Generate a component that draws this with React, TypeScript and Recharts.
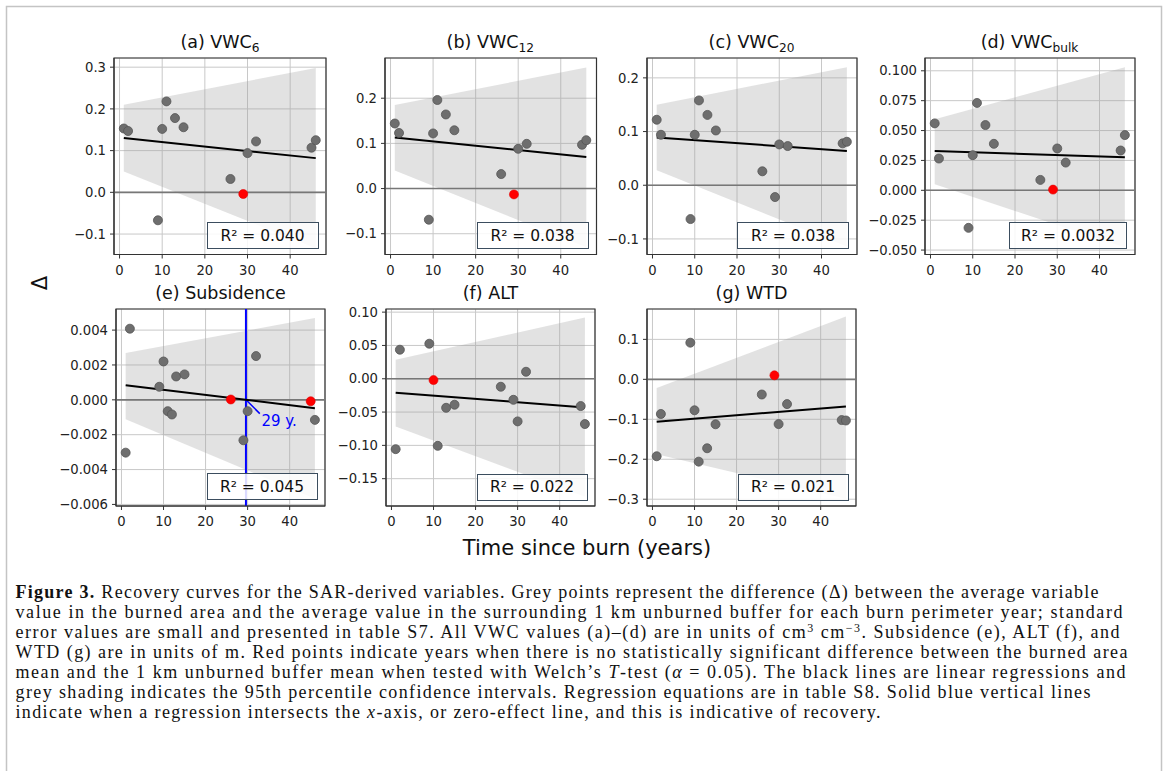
import React from 'react';
import {
  ComposedChart, Scatter, Line, Area, XAxis, YAxis, CartesianGrid,
  ReferenceLine, ReferenceArea,
} from 'recharts';

if (typeof document !== 'undefined') {
  document.body.style.margin = '0';
}

// ---------------- data ----------------
const years = [1, 2, 9, 10, 11, 13, 15, 26, 29, 30, 32, 45, 46];
const yearsSubsidence = [1, 2, 9, 10, 11, 12, 13, 15, 26, 29, 30, 32, 45, 46];
const fitYears = [1, 46];
const xTicks = [0, 10, 20, 30, 40];

const vwc6 = [0.153, 0.147, -0.067, 0.152, 0.218, 0.178, 0.156, 0.032, -0.004, 0.094, 0.122, 0.107, 0.125];
const vwc12 = [0.144, 0.123, -0.069, 0.122, 0.196, 0.164, 0.129, 0.032, -0.013, 0.088, 0.099, 0.097, 0.107];
const vwc20 = [0.122, 0.094, -0.063, 0.094, 0.158, 0.131, 0.102, 0.026, -0.022, 0.076, 0.073, 0.078, 0.081];
const vwcBulk = [0.056, 0.0266, -0.0314, 0.0294, 0.0731, 0.0546, 0.0389, 0.0087, 0.0006, 0.035, 0.0232, 0.0333, 0.0462];
const subsidence = [-0.00303, 0.00408, 0.00075, 0.0022, -0.00065, -0.00084, 0.00134, 0.00146, 0.00002, -0.00232, -0.00065, 0.00251, -0.00008, -0.00115];
const alt = [-0.1057, 0.0436, 0.0526, -0.002, -0.1007, -0.0436, -0.039, -0.012, -0.0316, -0.064, 0.0105, -0.041, -0.068];
const wtd = [-0.1925, -0.0867, 0.0917, -0.0775, -0.206, -0.1725, -0.1125, -0.038, 0.010, -0.112, -0.062, -0.102, -0.103];

// years without significant difference (red points)
const redA = [29];
const redB = [29];
const redC: number[] = [];
const redD = [29];
const redE = [26, 45];
const redF = [10];
const redG = [29];

// regression line endpoints (at fitYears) and confidence band
const fitA = [0.130, 0.082]; const loA = [0.050, -0.134]; const hiA = [0.210, 0.298];
const fitB = [0.113, 0.070]; const loB = [0.040, -0.130]; const hiB = [0.185, 0.268];
const fitC = [0.089, 0.064]; const loC = [0.028, -0.114]; const hiC = [0.150, 0.220];
const fitD = [0.0328, 0.0277]; const loD = [0.005, -0.0479]; const hiD = [0.0594, 0.103];
const fitE = [0.00084, -0.00048]; const loE = [-0.00111, -0.00567]; const hiE = [0.00268, 0.00469];
const fitF = [-0.021, -0.043]; const loF = [-0.0716, -0.177]; const hiF = [0.0286, 0.092];
const fitG = [-0.106, -0.068]; const loG = [-0.1875, -0.299]; const hiG = [-0.022, 0.157];

const r2Labels = ['0.040', '0.038', '0.038', '0.0032', '0.045', '0.022', '0.021'];
const titleMain = ['(a) VWC', '(b) VWC', '(c) VWC', '(d) VWC', '(e) Subsidence', '(f) ALT', '(g) WTD'];
const titleSub = ['6', '12', '20', 'bulk', '', '', ''];

const recoveryYearE = 29.6;
const recoveryArrowE = [{ x: 29.6, y: 0 }, { x: 32.9, y: -0.00079 }];
const recoveryTextE = [{ x: 33.3, y: -0.00125, label: '29 y.' }];

const xDomain: [number, number] = [-1.3, 48.4];

type Rect = { x: number; y: number; w: number; h: number };
type Panel = {
  xs: number[]; ys: number[]; red: number[]; fit: number[]; lo: number[]; hi: number[];
  yDomain: [number, number]; yTicks: number[]; dec: number; boxW: number; rect: Rect; idx: number;
};

const panels: Panel[] = [
  { idx: 0, xs: years, ys: vwc6, red: redA, fit: fitA, lo: loA, hi: hiA, yDomain: [-0.149, 0.322], yTicks: [-0.1, 0, 0.1, 0.2, 0.3], dec: 1, boxW: 112, rect: { x: 114, y: 58, w: 212, h: 196.5 } },
  { idx: 1, xs: years, ys: vwc12, red: redB, fit: fitB, lo: loB, hi: hiB, yDomain: [-0.146, 0.289], yTicks: [-0.1, 0, 0.1, 0.2], dec: 1, boxW: 112, rect: { x: 384.5, y: 58, w: 211.5, h: 196.5 } },
  { idx: 2, xs: years, ys: vwc20, red: redC, fit: fitC, lo: loC, hi: hiC, yDomain: [-0.129, 0.237], yTicks: [-0.1, 0, 0.1, 0.2], dec: 1, boxW: 112, rect: { x: 646.5, y: 58, w: 210, h: 196.5 } },
  { idx: 3, xs: years, ys: vwcBulk, red: redD, fit: fitD, lo: loD, hi: hiD, yDomain: [-0.0537, 0.1107], yTicks: [-0.05, -0.025, 0, 0.025, 0.05, 0.075, 0.1], dec: 3, boxW: 118, rect: { x: 924.5, y: 58, w: 210, h: 196.5 } },
  { idx: 4, xs: yearsSubsidence, ys: subsidence, red: redE, fit: fitE, lo: loE, hi: hiE, yDomain: [-0.00609, 0.00521], yTicks: [-0.006, -0.004, -0.002, 0, 0.002, 0.004], dec: 3, boxW: 111, rect: { x: 116, y: 308.5, w: 209, h: 197 } },
  { idx: 5, xs: years, ys: alt, red: redF, fit: fitF, lo: loF, hi: hiF, yDomain: [-0.191, 0.1047], yTicks: [-0.15, -0.1, -0.05, 0, 0.05, 0.1], dec: 2, boxW: 111, rect: { x: 386, y: 309, w: 209, h: 197 } },
  { idx: 6, xs: years, ys: wtd, red: redG, fit: fitG, lo: loG, hi: hiG, yDomain: [-0.317, 0.176], yTicks: [-0.3, -0.2, -0.1, 0, 0.1], dec: 1, boxW: 111, rect: { x: 647, y: 309, w: 209, h: 197 } },
];

// caption
type Seg = { t: string; b?: boolean; i?: boolean; sup?: boolean };
const captionLines: Seg[][] = [
  [{ t: 'Figure 3.', b: true }, { t: ' Recovery curves for the SAR-derived variables. Grey points represent the difference (Δ) between the average variable' }],
  [{ t: 'value in the burned area and the average value in the surrounding 1 km unburned buffer for each burn perimeter year; standard' }],
  [{ t: 'error values are small and presented in table S7. All VWC values (a)–(d) are in units of cm' }, { t: '3', sup: true }, { t: ' cm' }, { t: '−3', sup: true }, { t: '. Subsidence (e), ALT (f), and' }],
  [{ t: 'WTD (g) are in units of m. Red points indicate years when there is no statistically significant difference between the burned area' }],
  [{ t: 'mean and the 1 km unburned buffer mean when tested with Welch’s ' }, { t: 'T', i: true }, { t: '-test (' }, { t: 'α', i: true }, { t: ' = 0.05). The black lines are linear regressions and' }],
  [{ t: 'grey shading indicates the 95th percentile confidence intervals. Regression equations are in table S8. Solid blue vertical lines' }],
  [{ t: 'indicate when a regression intersects the ' }, { t: 'x', i: true }, { t: '-axis, or zero-effect line, and this is indicative of recovery.' }],
];
const captionLineWidths = [1083, 1107, 1104, 1112, 1110, 1075, 865];

// ---------------- rendering ----------------
const FONT = 'DejaVu Sans, sans-serif';
const tickStyle = { fill: '#222', fontSize: 13.2, fontFamily: FONT };

const fmt = (d: number) => (v: number) => {
  const s = Math.abs(v).toFixed(d);
  return (v < -1e-12 ? '\u2212' : '') + s;
};

const greyDot = (props: any) => (
  <circle cx={props.cx} cy={props.cy} r={4.5} fill="#6e6e6e" stroke="#555555" strokeWidth={0.8} />
);
const redDot = (props: any) => (
  <circle cx={props.cx} cy={props.cy} r={4.5} fill="#ff0000" stroke="#e00000" strokeWidth={0.6} />
);
const blueText = (props: any) => (
  <text x={props.cx} y={props.cy} dominantBaseline="middle" fill="#0000ff" fontSize={15} fontFamily={FONT}>
    {props.payload.label}
  </text>
);

function PanelChart({ p }: { p: Panel }) {
  const { x, y, w, h } = p.rect;
  const L = 70, T = 10, R = 6, B = 32;
  const pts = p.xs.map((xv, i) => ({ x: xv, y: p.ys[i] }));
  const grey = pts.filter((d) => !p.red.includes(d.x));
  const reds = pts.filter((d) => p.red.includes(d.x));
  const fitData = fitYears.map((xv, i) => ({ x: xv, y: p.fit[i] }));
  const band = fitYears.map((xv, i) => ({ x: xv, range: [p.lo[i], p.hi[i]] }));
  const isE = p.idx === 4;
  return (
    <div style={{ position: 'absolute', left: x - L, top: y - T, width: w + L + R, height: h + T + B }}>
      <ComposedChart width={w + L + R} height={h + T + B} margin={{ top: T, right: R, bottom: 0, left: L - 60 }}>
        <CartesianGrid stroke="#c8c8c8" strokeWidth={1} />
        <XAxis
          type="number" dataKey="x" domain={xDomain} ticks={xTicks} allowDataOverflow interval={0}
          height={B} tickSize={4} tickMargin={7} tick={tickStyle}
          axisLine={{ stroke: '#333' }} tickLine={{ stroke: '#333' }}
        />
        <YAxis
          type="number" dataKey="y" domain={p.yDomain} ticks={p.yTicks} allowDataOverflow interval={0}
          width={60} tickSize={4} tickMargin={4} tick={tickStyle} tickFormatter={fmt(p.dec)}
          axisLine={{ stroke: '#333' }} tickLine={{ stroke: '#333' }}
        />
        <Area data={band} dataKey="range" type="linear" stroke="none" fill="#a0a0a0" fillOpacity={0.3} isAnimationActive={false} />
        <ReferenceLine y={0} stroke="#777777" strokeWidth={1.6} />
        {isE && <ReferenceLine x={recoveryYearE} stroke="#0000ff" strokeWidth={2} />}
        {isE && <ReferenceLine segment={recoveryArrowE} stroke="#0000ff" strokeWidth={1.5} />}
        <Line data={fitData} dataKey="y" type="linear" stroke="#000" strokeWidth={2} dot={false} isAnimationActive={false} />
        <Scatter data={grey} dataKey="y" shape={greyDot} isAnimationActive={false} />
        {reds.length > 0 && <Scatter data={reds} dataKey="y" shape={redDot} isAnimationActive={false} />}
        {isE && <Scatter data={recoveryTextE} dataKey="y" shape={blueText} isAnimationActive={false} />}
        <ReferenceArea x1={xDomain[0]} x2={xDomain[1]} y1={p.yDomain[0]} y2={p.yDomain[1]} fill="none" stroke="#333" strokeWidth={1.2} />
      </ComposedChart>
      <div style={{
        position: 'absolute', left: L - 20, width: w + 40, top: T - 26, textAlign: 'center',
        fontFamily: FONT, fontSize: 17.5, color: '#111', whiteSpace: 'nowrap', lineHeight: '20px',
      }}>
        {titleMain[p.idx]}
        {titleSub[p.idx] && (
          <span style={{ fontSize: 12.2, position: 'relative', top: 4 }}>{titleSub[p.idx]}</span>
        )}
      </div>
      <div style={{
        position: 'absolute', left: L + w - 7.5 - p.boxW, top: T + h - 5.5 - 27, width: p.boxW, height: 27,
        boxSizing: 'border-box', border: '1.2px solid #3b4d5e', background: 'rgba(255,255,255,0.85)',
        display: 'flex', alignItems: 'center', justifyContent: 'center',
        fontFamily: FONT, fontSize: 15.5, color: '#111', whiteSpace: 'nowrap',
      }}>
        {'R² = ' + r2Labels[p.idx]}
      </div>
    </div>
  );
}

function Caption() {
  return (
    <svg width={1165} height={771} style={{ position: 'absolute', left: 0, top: 0 }}>
      <rect x={6.5} y={6.5} width={1155} height={800} fill="none" stroke="#c4c4c4" strokeWidth={1.5} />
      {captionLines.map((segs, li) => (
        <text
          key={li} x={15.5} y={598 + li * 20} fontFamily="'Liberation Serif', 'Times New Roman', serif"
          fontSize={18} fill="#111" textLength={captionLineWidths[li]} lengthAdjust="spacing"
        >
          {segs.map((s, si) =>
            s.sup ? (
              <tspan key={si} fontSize={12} dy={-6}>{s.t}</tspan>
            ) : (
              <tspan
                key={si}
                dy={si > 0 && segs[si - 1].sup ? 6 : 0}
                fontWeight={s.b ? 'bold' : 'normal'}
                fontStyle={s.i ? 'italic' : 'normal'}
              >
                {s.t}
              </tspan>
            ),
          )}
        </text>
      ))}
    </svg>
  );
}

export default function App() {
  return (
    <div style={{ position: 'relative', width: 1165, height: 771, background: '#fff', overflow: 'hidden' }}>
      <Caption />
      {panels.map((p) => (
        <PanelChart key={p.idx} p={p} />
      ))}
      <div style={{
        position: 'absolute', left: 40 - 20, top: 283 - 14, width: 40, height: 28, textAlign: 'center',
        fontFamily: FONT, fontSize: 21, lineHeight: '28px', color: '#111', transform: 'rotate(-90deg)',
      }}>
        Δ
      </div>
      <div style={{
        position: 'absolute', left: 587 - 200, top: 548 - 14, width: 400, height: 28, textAlign: 'center',
        fontFamily: FONT, fontSize: 21, lineHeight: '28px', color: '#111', whiteSpace: 'nowrap',
      }}>
        Time since burn (years)
      </div>
    </div>
  );
}
